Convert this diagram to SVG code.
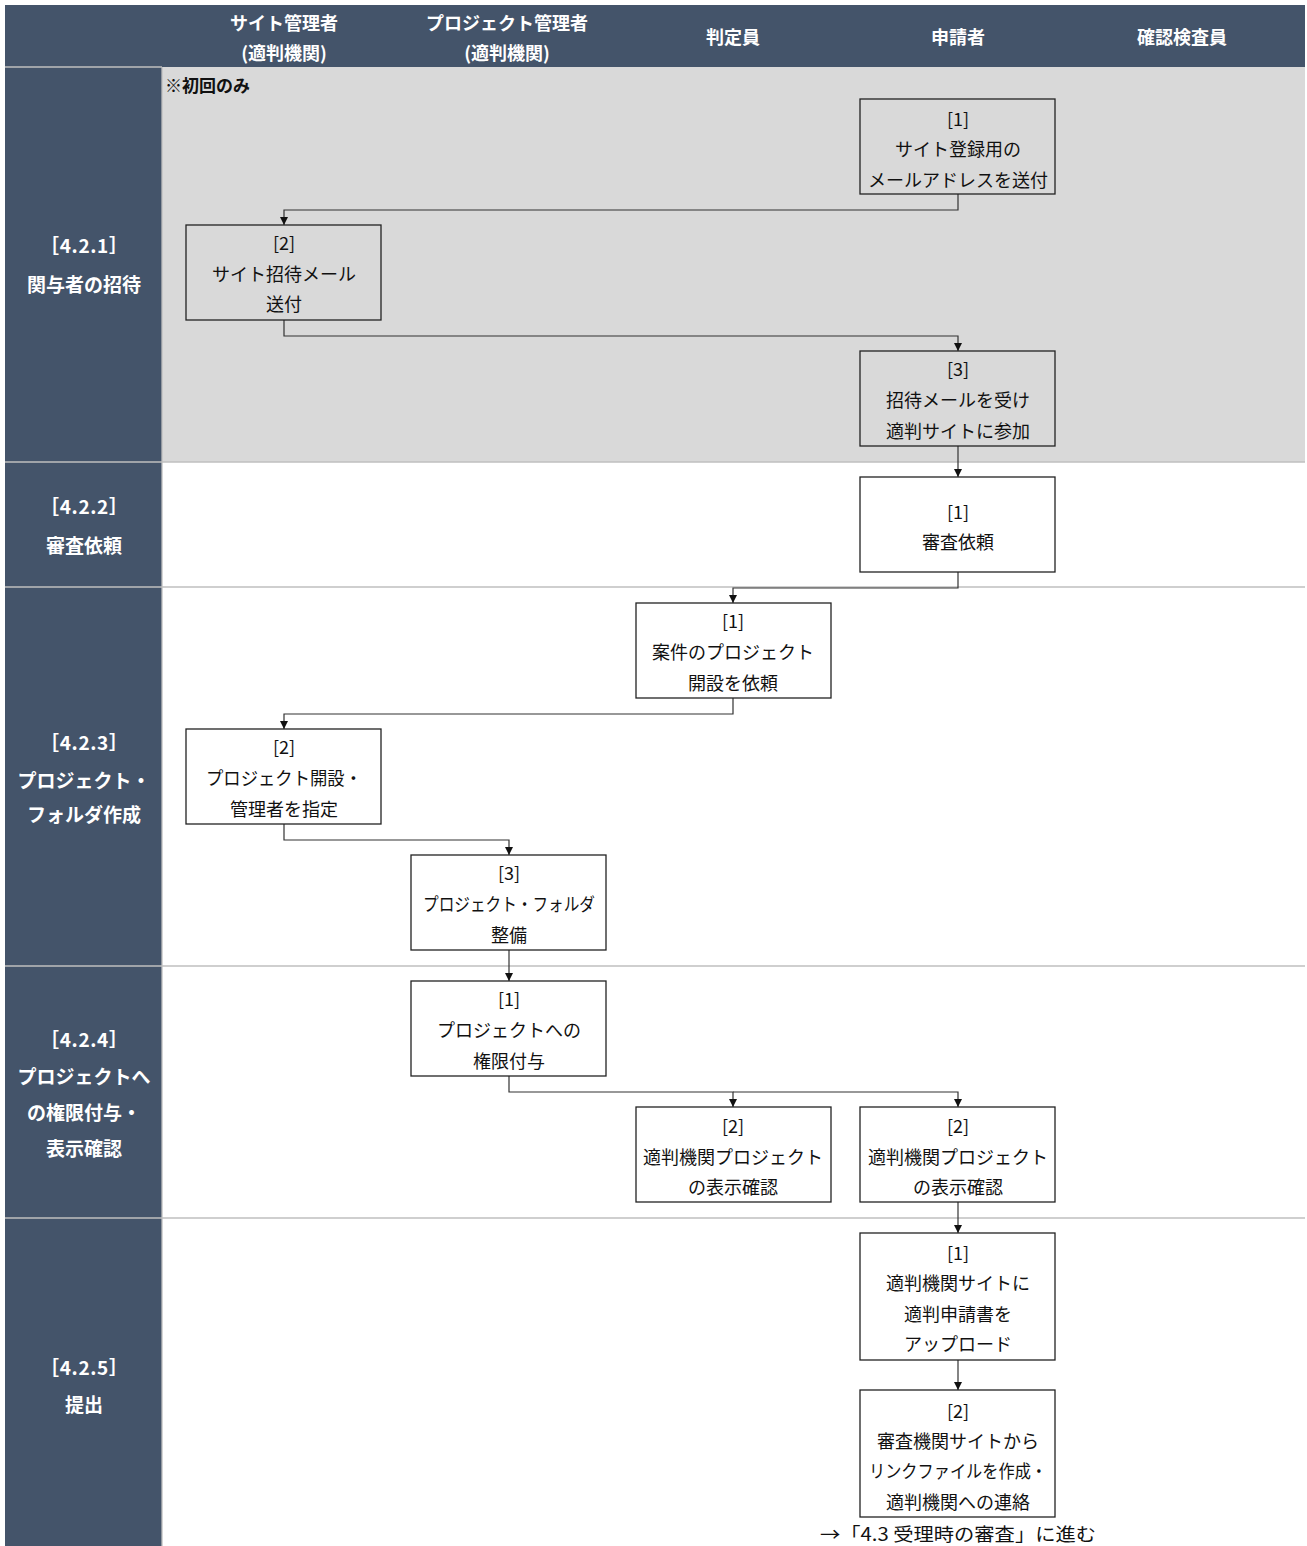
<svg xmlns="http://www.w3.org/2000/svg" width="1307" height="1546" viewBox="0 0 1307 1546">
<defs>
<style>
.hd{fill:#44546A}
.ht{fill:#fff;font-family:"Noto Sans CJK JP","Noto Sans",sans-serif;font-weight:bold;font-size:18px;text-anchor:middle;dominant-baseline:central}
.lt{fill:#fff;font-family:"Noto Sans CJK JP","Noto Sans",sans-serif;font-weight:bold;font-size:19px;text-anchor:middle;dominant-baseline:central}
.sep{stroke:#BFBFBF;stroke-width:1.3}
.box{fill:#fff;stroke:#222;stroke-width:1.3}
.gbox{fill:#D9D9D9;stroke:#222;stroke-width:1.3}
.nt{fill:#111;font-family:"Noto Sans CJK JP","Noto Sans",sans-serif;font-size:18px;text-anchor:middle;dominant-baseline:central}
.con{fill:none;stroke:#333;stroke-width:1.2;marker-end:url(#ah)}
</style>
<marker id="ah" viewBox="0 0 10 10" refX="10" refY="5" markerWidth="8" markerHeight="8" markerUnits="userSpaceOnUse" orient="auto">
<path d="M0,0 L10,5 L0,10 z" fill="#111"/>
</marker>
</defs>
<rect width="1307" height="1546" fill="#fff"/>
<g id="lanes">
<rect x="162" y="67" width="1143" height="395" fill="#D9D9D9"/>
<rect class="hd" x="5" y="5" width="1300" height="62"/>
<rect class="hd" x="5" y="67" width="157" height="1479"/>
<line class="sep" x1="5" y1="67" x2="162" y2="67"/>
<line class="sep" x1="5" y1="462" x2="1305" y2="462"/>
<line class="sep" x1="5" y1="587" x2="1305" y2="587"/>
<line class="sep" x1="5" y1="966" x2="1305" y2="966"/>
<line class="sep" x1="5" y1="1218" x2="1305" y2="1218"/>
<line class="sep" x1="162" y1="67" x2="162" y2="1546"/>
<text class="ht" x="284" y="22">サイト管理者</text>
<text class="ht" x="284" y="52">(適判機関)</text>
<text class="ht" x="507" y="22">プロジェクト管理者</text>
<text class="ht" x="507" y="52">(適判機関)</text>
<text class="ht" x="733" y="36">判定員</text>
<text class="ht" x="958" y="36">申請者</text>
<text class="ht" x="1182" y="36">確認検査員</text>
<text class="lt" x="84" y="244" textLength="88" lengthAdjust="spacing">［4.2.1］</text>
<text class="lt" x="84" y="283">関与者の招待</text>
<text class="lt" x="84" y="505" textLength="88" lengthAdjust="spacing">［4.2.2］</text>
<text class="lt" x="84" y="544">審査依頼</text>
<text class="lt" x="84" y="741" textLength="88" lengthAdjust="spacing">［4.2.3］</text>
<text class="lt" x="84" y="779">プロジェクト・</text>
<text class="lt" x="84" y="813">フォルダ作成</text>
<text class="lt" x="84" y="1038" textLength="88" lengthAdjust="spacing">［4.2.4］</text>
<text class="lt" x="84" y="1075">プロジェクトへ</text>
<text class="lt" x="84" y="1111">の権限付与・</text>
<text class="lt" x="84" y="1147">表示確認</text>
<text class="lt" x="84" y="1366" textLength="88" lengthAdjust="spacing">［4.2.5］</text>
<text class="lt" x="84" y="1403">提出</text>
<text x="165" y="84" font-family="Noto Sans CJK JP,sans-serif" font-weight="bold" font-size="17" fill="#111" dominant-baseline="central">※初回のみ</text>
</g>
<g id="connectors">
<polyline class="con" points="958,194 958,210 284,210 284,225"/>
<polyline class="con" points="284,320 284,336 958,336 958,351"/>
<polyline class="con" points="958,446 958,477"/>
<polyline class="con" points="958,572 958,588 733,588 733,603"/>
<polyline class="con" points="733,698 733,714 284,714 284,729"/>
<polyline class="con" points="284,824 284,840 509,840 509,855"/>
<polyline class="con" points="509,950 509,981"/>
<polyline class="con" points="509,1076 509,1092 733,1092 733,1107"/>
<polyline class="con" points="733,1092 958,1092 958,1107"/>
<polyline class="con" points="958,1202 958,1233"/>
<polyline class="con" points="958,1360 958,1390"/>
</g>
<g id="n421-1"><rect class="gbox" x="860" y="99" width="195" height="95"/>
<text class="nt" x="958" y="118">[1]</text><text class="nt" x="958" y="148">サイト登録用の</text><text class="nt" x="958" y="179">メールアドレスを送付</text></g>
<g id="n421-2"><rect class="gbox" x="186" y="225" width="195" height="95"/>
<text class="nt" x="284" y="242">[2]</text><text class="nt" x="284" y="273">サイト招待メール</text><text class="nt" x="284" y="303">送付</text></g>
<g id="n421-3"><rect class="gbox" x="860" y="351" width="195" height="95"/>
<text class="nt" x="958" y="368">[3]</text><text class="nt" x="958" y="399">招待メールを受け</text><text class="nt" x="958" y="430">適判サイトに参加</text></g>
<g id="n422-1"><rect class="box" x="860" y="477" width="195" height="95"/>
<text class="nt" x="958" y="511">[1]</text><text class="nt" x="958" y="541">審査依頼</text></g>
<g id="n423-1"><rect class="box" x="636" y="603" width="195" height="95"/>
<text class="nt" x="733" y="620">[1]</text><text class="nt" x="733" y="651">案件のプロジェクト</text><text class="nt" x="733" y="682">開設を依頼</text></g>
<g id="n423-2"><rect class="box" x="186" y="729" width="195" height="95"/>
<text class="nt" x="284" y="746">[2]</text><text class="nt" x="284" y="777" textLength="156" lengthAdjust="spacingAndGlyphs">プロジェクト開設・</text><text class="nt" x="284" y="808">管理者を指定</text></g>
<g id="n423-3"><rect class="box" x="411" y="855" width="195" height="95"/>
<text class="nt" x="509" y="872">[3]</text><text class="nt" x="509" y="903" textLength="172" lengthAdjust="spacingAndGlyphs">プロジェクト・フォルダ</text><text class="nt" x="509" y="934">整備</text></g>
<g id="n424-1"><rect class="box" x="411" y="981" width="195" height="95"/>
<text class="nt" x="509" y="998">[1]</text><text class="nt" x="509" y="1029">プロジェクトへの</text><text class="nt" x="509" y="1060">権限付与</text></g>
<g id="n424-2a"><rect class="box" x="636" y="1107" width="195" height="95"/>
<text class="nt" x="733" y="1125">[2]</text><text class="nt" x="733" y="1156">適判機関プロジェクト</text><text class="nt" x="733" y="1186">の表示確認</text></g>
<g id="n424-2b"><rect class="box" x="860" y="1107" width="195" height="95"/>
<text class="nt" x="958" y="1125">[2]</text><text class="nt" x="958" y="1156">適判機関プロジェクト</text><text class="nt" x="958" y="1186">の表示確認</text></g>
<g id="n425-1"><rect class="box" x="860" y="1233" width="195" height="127"/>
<text class="nt" x="958" y="1252">[1]</text><text class="nt" x="958" y="1282">適判機関サイトに</text><text class="nt" x="958" y="1313">適判申請書を</text><text class="nt" x="958" y="1343">アップロード</text></g>
<g id="n425-2"><rect class="box" x="860" y="1390" width="195" height="127"/>
<text class="nt" x="958" y="1410">[2]</text><text class="nt" x="958" y="1440">審査機関サイトから</text><text class="nt" x="958" y="1470" textLength="178" lengthAdjust="spacingAndGlyphs">リンクファイルを作成・</text><text class="nt" x="958" y="1501">適判機関への連絡</text></g>
<text class="nt" x="958" y="1533" font-size="19" textLength="276" lengthAdjust="spacingAndGlyphs">→「4.3 受理時の審査」に進む</text>
</svg>
